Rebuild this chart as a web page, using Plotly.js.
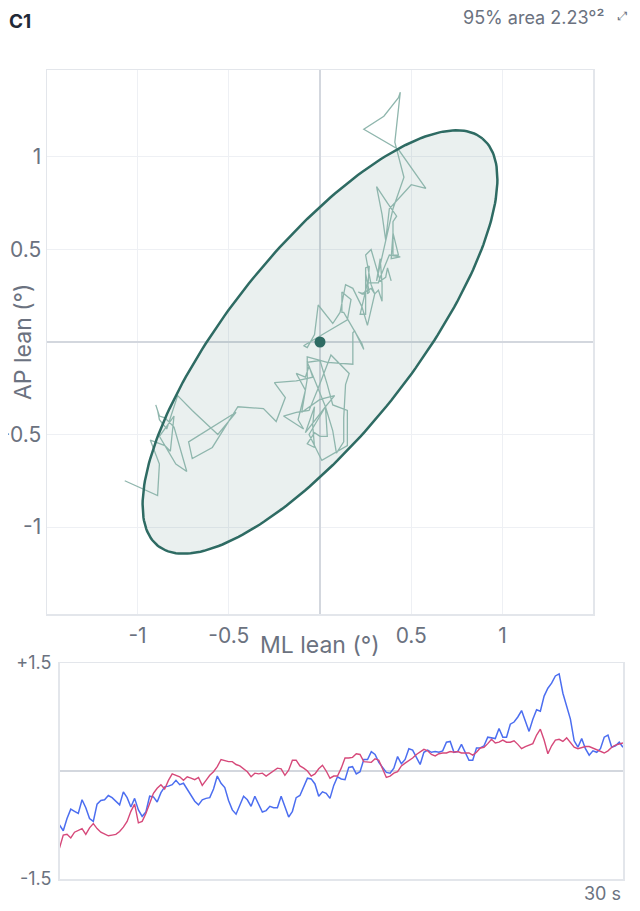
<!DOCTYPE html>
<html>
<head>
<meta charset="utf-8">
<script src="https://cdn.plot.ly/plotly-3.0.1.min.js"></script>
<style>
html,body{margin:0;padding:0;background:#ffffff;}
#chart{width:640px;height:911px;}
</style>
</head>
<body>
<div id="chart"></div>
<script>
// ---- data ----
const timeStep = 0.2; // seconds between samples, 0 .. 30 s
// ML lean (°) – red trace, x of the sway path
const mlLean = [
 -1.07,-0.89,-0.88,-0.93,-0.85,-0.82,-0.80,-0.88,-0.79,-0.73,
 -0.80,-0.85,-0.88,-0.90,-0.89,-0.88,-0.84,-0.78,-0.70,-0.56,
 -0.46,-0.72,-0.70,-0.59,-0.45,-0.31,-0.24,-0.19,-0.25,-0.13,
 -0.04,-0.06,-0.08,-0.13,-0.08,-0.10,-0.12,-0.09,-0.20,-0.13,
 -0.06,-0.01, 0.06, 0.16, 0.14, 0.13, 0.13, 0.09, 0.07, 0.03,
 -0.01,-0.08,-0.03,-0.04,-0.03,-0.07,-0.03, 0.00, 0.04, 0.03,
 -0.06, 0.01, 0.15, 0.15, 0.07, 0.04, 0.00,-0.07,-0.04, 0.03,
  0.08, 0.00,-0.10,-0.07,-0.07, 0.04, 0.18, 0.18, 0.19, 0.24,
  0.23, 0.13, 0.12, 0.12, 0.17, 0.15, 0.03,-0.09,-0.07,-0.03,
 -0.01, 0.07, 0.11, 0.14, 0.18, 0.23, 0.26, 0.30, 0.28, 0.23,
  0.21, 0.24, 0.25, 0.25, 0.27, 0.26, 0.27, 0.25, 0.25, 0.25,
  0.22, 0.26, 0.32, 0.33, 0.38, 0.44, 0.39, 0.40, 0.43, 0.40,
  0.40, 0.42, 0.37, 0.31, 0.34, 0.36, 0.38, 0.50, 0.58, 0.43,
  0.24, 0.35, 0.43, 0.44, 0.41, 0.46, 0.40, 0.33, 0.31, 0.33,
  0.34, 0.34, 0.32, 0.30, 0.28, 0.25, 0.28, 0.33, 0.36, 0.37,
  0.39
];
// AP lean (°) – blue trace, y of the sway path
const apLean = [
 -0.75,-0.83,-0.66,-0.53,-0.56,-0.59,-0.40,-0.51,-0.66,-0.70,
 -0.46,-0.41,-0.40,-0.34,-0.37,-0.42,-0.47,-0.29,-0.37,-0.50,
 -0.38,-0.54,-0.63,-0.57,-0.35,-0.36,-0.43,-0.30,-0.22,-0.21,
 -0.19,-0.13,-0.19,-0.17,-0.26,-0.34,-0.42,-0.47,-0.40,-0.38,
 -0.37,-0.25,-0.07,-0.17,-0.23,-0.41,-0.54,-0.60,-0.48,-0.35,
 -0.40,-0.49,-0.35,-0.45,-0.57,-0.55,-0.49,-0.51,-0.51,-0.35,
 -0.50,-0.64,-0.56,-0.37,-0.34,-0.23,-0.10,-0.11,-0.18,-0.35,
 -0.29,-0.31,-0.38,-0.20,-0.08,-0.11,-0.12, 0.05, 0.06,-0.04,
 -0.01, 0.16, 0.16, 0.27, 0.23, 0.12, 0.05,-0.02,-0.03, 0.04,
  0.20, 0.10, 0.16, 0.31, 0.29, 0.19, 0.09, 0.26, 0.29, 0.26,
  0.27, 0.26, 0.28, 0.40, 0.41, 0.26, 0.27, 0.37, 0.27, 0.15,
  0.15, 0.32, 0.32, 0.35, 0.47, 0.46, 0.45, 0.59, 0.47, 0.47,
  0.65, 0.68, 0.75, 0.84, 0.69, 0.55, 0.72, 0.85, 0.83, 1.04,
  1.15, 1.22, 1.32, 1.35, 1.08, 0.89, 0.72, 0.42, 0.33, 0.45,
  0.31, 0.22, 0.28, 0.26, 0.31, 0.47, 0.50, 0.33, 0.35, 0.40,
  0.33
];
// 95% confidence ellipse
const ellipseCenter = [0, 0];
const ellipseSemiMajor = 1.415;
const ellipseSemiMinor = 0.502;
const ellipseAngleDeg = 51;
const areaLabel = "95% area 2.23°²";
const panelLabel = "C1";
// ticks
const swayTickVals = [-1, -0.5, 0.5, 1];
const swayTickText = ["-1", "-0.5", "0.5", "1"];
const seriesTickVals = [-1.5, 1.5];
const seriesTickText = ["-1.5", "+1.5"];
const durationLabel = "30 s";

// ---- derived ----
const times = mlLean.map((_, i) => +(i * timeStep).toFixed(2));
const ell = (() => {
  const xs = [], ys = [];
  const th = ellipseAngleDeg * Math.PI / 180;
  for (let k = 0; k <= 240; k++) {
    const a = 2 * Math.PI * k / 240;
    const u = ellipseSemiMajor * Math.cos(a), v = ellipseSemiMinor * Math.sin(a);
    xs.push(ellipseCenter[0] + u * Math.cos(th) - v * Math.sin(th));
    ys.push(ellipseCenter[1] + u * Math.sin(th) + v * Math.cos(th));
  }
  return {xs, ys};
})();

const W = 640, H = 911;
const px = x => x / W;
const py = y => 1 - y / H;

const FONT = "Inter, 'Noto Sans', 'Liberation Sans', sans-serif";
const GREY = "#6b7280";
const TEAL = "#2e6b63";

const traces = [
  {x: ell.xs, y: ell.ys, xaxis: "x", yaxis: "y", mode: "lines", fill: "toself",
   fillcolor: "rgba(46,107,99,0.10)", line: {width: 0, color: "rgba(0,0,0,0)"}, hoverinfo: "skip"},
  {x: mlLean, y: apLean, xaxis: "x", yaxis: "y", mode: "lines",
   line: {color: "#8fb6ad", width: 1.3}},
  {x: ell.xs, y: ell.ys, xaxis: "x", yaxis: "y", mode: "lines",
   line: {color: TEAL, width: 2.5}},
  {x: [ellipseCenter[0]], y: [ellipseCenter[1]], xaxis: "x", yaxis: "y", mode: "markers",
   marker: {size: 11, color: TEAL}},
  {x: times, y: apLean, xaxis: "x2", yaxis: "y2", mode: "lines",
   line: {color: "#4c6ef0", width: 1.5}},
  {x: times, y: mlLean, xaxis: "x2", yaxis: "y2", mode: "lines",
   line: {color: "#d6497a", width: 1.4}}
];

const layout = {
  width: W, height: H,
  margin: {l: 0, r: 0, t: 0, b: 0},
  paper_bgcolor: "#ffffff", plot_bgcolor: "#ffffff",
  showlegend: false,
  font: {family: FONT, color: GREY, size: 21},
  xaxis: {
    domain: [px(47), px(593)], range: [-1.496, 1.496], anchor: "y",
    tickvals: swayTickVals, ticktext: swayTickText, ticks: "", ticklabelstandoff: 2,
    tickfont: {size: 21, color: GREY},
    showgrid: true, gridcolor: "#eef0f4", gridwidth: 1,
    zeroline: true, zerolinecolor: "#d3d7de", zerolinewidth: 1.5,
    showline: true, mirror: true, linecolor: "#e3e6eb", linewidth: 1.5, fixedrange: true
  },
  yaxis: {
    domain: [py(614), py(70)], range: [-1.47, 1.47], anchor: "x",
    tickvals: swayTickVals, ticktext: swayTickText, ticks: "", ticklabelstandoff: 0,
    tickfont: {size: 21, color: GREY},
    showgrid: true, gridcolor: "#eef0f4", gridwidth: 1,
    zeroline: true, zerolinecolor: "#d3d7de", zerolinewidth: 1.5,
    showline: true, mirror: true, linecolor: "#e3e6eb", linewidth: 1.5, fixedrange: true
  },
  xaxis2: {
    domain: [px(59.5), px(623)], range: [0, 30], anchor: "y2",
    showticklabels: false, ticks: "", showgrid: false, zeroline: false,
    showline: true, mirror: true, linecolor: "#e3e6eb", linewidth: 1.5, fixedrange: true
  },
  yaxis2: {
    domain: [py(879), py(663)], range: [-1.5, 1.5], anchor: "x2",
    tickvals: seriesTickVals, ticktext: seriesTickText, ticks: "", ticklabelstandoff: 3,
    tickfont: {size: 18, color: GREY},
    showgrid: false, zeroline: true, zerolinecolor: "#d3d7de", zerolinewidth: 1.2,
    showline: true, mirror: true, linecolor: "#e3e6eb", linewidth: 1.5, fixedrange: true
  },
  annotations: [
    {text: "<b>" + panelLabel + "</b>", xref: "paper", yref: "paper", x: px(7), y: py(21),
     xanchor: "left", yanchor: "middle", showarrow: false, font: {size: 19, color: "#1f2937", family: FONT}},
    {text: areaLabel, xref: "paper", yref: "paper", x: px(606), y: py(17),
     xanchor: "right", yanchor: "middle", showarrow: false, font: {size: 18, color: GREY, family: FONT}},
    {text: "⤢", xref: "paper", yref: "paper", x: px(622), y: py(16),
     xanchor: "center", yanchor: "middle", showarrow: false, font: {size: 12, color: GREY, family: "DejaVu Sans"}},
    {text: "ML lean (°)", xref: "paper", yref: "paper", x: px(320), y: py(645),
     xanchor: "center", yanchor: "middle", showarrow: false, font: {size: 23, color: GREY, family: FONT}},
    {text: "AP lean (°)", xref: "paper", yref: "paper", x: px(23), y: py(342), textangle: -90,
     xanchor: "center", yanchor: "middle", showarrow: false, font: {size: 23, color: GREY, family: FONT}},
    {text: durationLabel, xref: "paper", yref: "paper", x: px(623), y: py(893),
     xanchor: "right", yanchor: "middle", showarrow: false, font: {size: 18, color: GREY, family: FONT}}
  ],
  shapes: [
    {type: "rect", xref: "paper", yref: "paper", x0: 0, x1: px(8), y0: py(452), y1: py(418),
     fillcolor: "#ffffff", line: {width: 0}, layer: "above"}
  ]
};

Plotly.newPlot("chart", traces, layout, {displayModeBar: false, staticPlot: true});
</script>
</body>
</html>
